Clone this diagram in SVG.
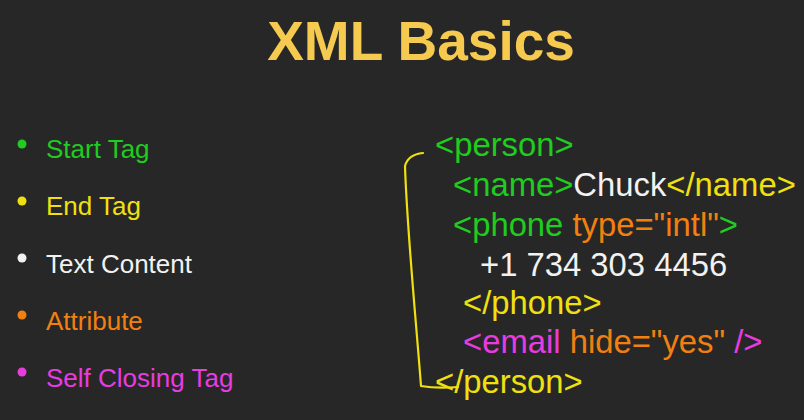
<svg xmlns="http://www.w3.org/2000/svg" width="804" height="420" viewBox="0 0 804 420">
  <style>
    .title { font-family: "Liberation Sans", Arial, sans-serif; font-weight: bold; font-size: 55px; fill: #f6c94f; }
    .legend { font-family: "Liberation Sans", Arial, sans-serif; font-size: 26px; }
    .code { font-family: "Liberation Sans", Arial, sans-serif; font-size: 32.8px; }
    .green { fill: #1fcc1f; }
    .yellow { fill: #f0e010; }
    .white { fill: #f2f2f2; }
    .orange { fill: #f28010; }
    .magenta { fill: #e83ce0; }
    .bracket { fill: none; stroke: #f0e010; stroke-width: 2.2; stroke-linecap: round; stroke-linejoin: round; }
  </style>
  <rect width="804" height="420" fill="#272727"/>

  <text class="title" x="421" y="60" text-anchor="middle">XML Basics</text>

  <!-- legend -->
  <g id="legend-start">
    <circle class="green" cx="22" cy="144" r="4.5"/>
    <text class="legend green" x="46" y="158">Start Tag</text>
  </g>
  <g id="legend-end">
    <circle class="yellow" cx="22" cy="201" r="4.5"/>
    <text class="legend yellow" x="46" y="215">End Tag</text>
  </g>
  <g id="legend-text">
    <circle class="white" cx="22" cy="258" r="4.5"/>
    <text class="legend white" x="46" y="273">Text Content</text>
  </g>
  <g id="legend-attr">
    <circle class="orange" cx="22" cy="315" r="4.5"/>
    <text class="legend orange" x="46" y="330">Attribute</text>
  </g>
  <g id="legend-self">
    <circle class="magenta" cx="22" cy="372" r="4.5"/>
    <text class="legend magenta" x="46" y="387">Self Closing Tag</text>
  </g>

  <!-- XML sample -->
  <g id="code">
    <text class="code green" x="435" y="156">&lt;person&gt;</text>
    <text class="code" x="453" y="196"><tspan class="green">&lt;name&gt;</tspan><tspan class="white">Chuck</tspan><tspan class="yellow">&lt;/name&gt;</tspan></text>
    <text class="code" x="453" y="236"><tspan class="green">&lt;phone </tspan><tspan class="orange">type="intl"</tspan><tspan class="green">&gt;</tspan></text>
    <text class="code white" x="480" y="276">+1 734 303 4456</text>
    <text class="code yellow" x="463" y="314">&lt;/phone&gt;</text>
    <text class="code" x="463" y="353"><tspan class="magenta">&lt;email </tspan><tspan class="orange">hide="yes"</tspan><tspan class="magenta"> /&gt;</tspan></text>
    <text class="code yellow" x="435" y="393">&lt;/person&gt;</text>
  </g>

  <!-- hand-drawn bracket around the person element -->
  <g id="connectors">
    <path class="bracket" d="M423 153 C414 154 407 158 405 166 C407 230 416 320 421 386 C432 388 446 388 458 387"/>
  </g>
</svg>
